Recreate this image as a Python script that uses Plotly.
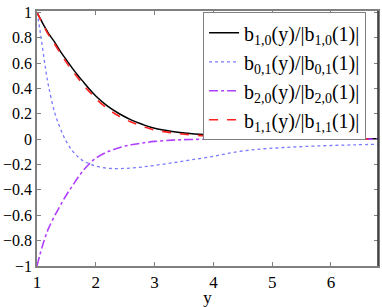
import plotly.graph_objects as go

y_vals = [1, 1.05, 1.1, 1.15, 1.2, 1.3, 1.4, 1.5, 1.6, 1.7, 1.8, 1.9, 2.0, 2.2, 2.4,
          2.6, 2.8, 3.0, 3.3, 3.6, 4.0, 4.4, 4.8, 5.2, 5.6, 6.0, 6.4, 6.8]

b10 = [1.0, 0.955, 0.91, 0.87, 0.83, 0.765, 0.69, 0.625, 0.56, 0.50, 0.445, 0.39, 0.34,
       0.26, 0.20, 0.152, 0.115, 0.085, 0.06, 0.044, 0.03, 0.02, 0.014, 0.01, 0.007,
       0.005, 0.004, 0.003]
b01 = [1.0, 0.86, 0.70, 0.54, 0.41, 0.21, 0.08, -0.02, -0.09, -0.14, -0.175, -0.195,
       -0.213, -0.229, -0.232, -0.228, -0.219, -0.207, -0.187, -0.165, -0.135, -0.10,
       -0.078, -0.066, -0.057, -0.05, -0.045, -0.04]
b20 = [-1.0, -0.91, -0.83, -0.76, -0.70, -0.605, -0.52, -0.44, -0.37, -0.30, -0.24,
       -0.19, -0.15, -0.10, -0.068, -0.045, -0.03, -0.018, -0.008, -0.003, 0.0, 0.0,
       0.0, 0.0, 0.0, 0.0, 0.0, 0.0]
b11 = [1.0, 0.95, 0.905, 0.86, 0.82, 0.75, 0.675, 0.605, 0.54, 0.48, 0.42, 0.37, 0.32,
       0.24, 0.18, 0.135, 0.10, 0.072, 0.05, 0.035, 0.022, 0.014, 0.009, 0.006, 0.004,
       0.003, 0.002, 0.001]

x_ticks = [1, 2, 3, 4, 5, 6]
y_ticks = [-1, -0.8, -0.6, -0.4, -0.2, 0, 0.2, 0.4, 0.6, 0.8, 1]
y_ticklabels = ["\u22121", "\u22120.8", "\u22120.6", "\u22120.4", "\u22120.2", "0",
                "0.2", "0.4", "0.6", "0.8", "1"]

names = ["b<sub>1,0</sub>(y)/|b<sub>1,0</sub>(1)|",
         "b<sub>0,1</sub>(y)/|b<sub>0,1</sub>(1)|",
         "b<sub>2,0</sub>(y)/|b<sub>2,0</sub>(1)|",
         "b<sub>1,1</sub>(y)/|b<sub>1,1</sub>(1)|"]

FONT = "Liberation Serif"

fig = go.Figure()
fig.add_trace(go.Scatter(x=y_vals, y=b10, mode="lines", name=names[0],
                         line=dict(color="black", width=1.5, shape="spline")))
fig.add_trace(go.Scatter(x=y_vals, y=b01, mode="lines", name=names[1],
                         line=dict(color="#7a7aff", width=1.3, dash="dot", shape="spline")))
fig.add_trace(go.Scatter(x=y_vals, y=b20, mode="lines", name=names[2],
                         line=dict(color="#b040ff", width=1.6, dash="dashdot", shape="spline")))
fig.add_trace(go.Scatter(x=y_vals, y=b11, mode="lines", name=names[3],
                         line=dict(color="#ff2020", width=1.6, dash="dash", shape="spline")))

axis_common = dict(showline=True, linecolor="#808080", linewidth=1.5, mirror="ticks",
                   ticks="inside", ticklen=4, tickcolor="#808080", showgrid=False,
                   zeroline=False, automargin=False)

fig.update_layout(
    width=382, height=307,
    margin=dict(l=37, r=4, t=11, b=41, autoexpand=False),
    paper_bgcolor="white", plot_bgcolor="white",
    font=dict(family=FONT, size=17, color="black"),
    xaxis=dict(range=[1, 6.8], tickvals=x_ticks,
               tickfont=dict(family=FONT, size=17, color="black"),
               title=dict(text="y", standoff=2, font=dict(family=FONT, size=17)),
               **axis_common),
    yaxis=dict(range=[-1, 1.01], tickvals=y_ticks, ticktext=y_ticklabels,
               tickfont=dict(family=FONT, size=16, color="black"),
               **axis_common),
    legend=dict(x=0.487, y=0.995, xanchor="left", yanchor="top", bgcolor="white",
                bordercolor="#808080", borderwidth=1, font=dict(family=FONT, size=20),
                tracegroupgap=0, itemwidth=30),
    showlegend=True,
)
fig.add_shape(type="line", xref="paper", yref="paper", x0=1, x1=1, y0=0, y1=1,
              line=dict(color="#303030", width=1.5))

fig.write_html("out.html", config={"displayModeBar": False},
               post_script="document.body.style.margin='0';document.body.style.padding='0';")
